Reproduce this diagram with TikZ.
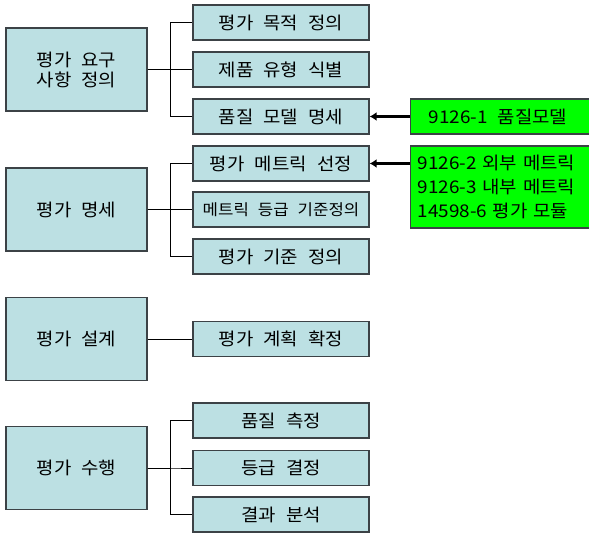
\documentclass[tikz,border=0pt]{standalone}
\usepackage{fontspec}
\setmainfont{Noto Sans CJK KR}[FakeStretch=1.08,WordSpace=2.4]
\usetikzlibrary{arrows.meta}
\definecolor{boxfill}{RGB}{188, 224, 227}
\definecolor{boxline}{RGB}{60, 66, 70}
\definecolor{isogreen}{RGB}{0, 255, 0}

\tikzset{
  stage/.style={draw=boxline, line width=1.3pt, fill=boxfill, minimum width=141pt,
    minimum height=83pt, align=center, font=\fontsize{17.5}{20}\selectfont},
  task/.style={draw=boxline, line width=1.3pt, fill=boxfill, minimum width=176pt,
    minimum height=35pt, font=\fontsize{17.5}{20}\selectfont},
  standard/.style={draw=boxline, line width=1.3pt, fill=isogreen, anchor=west,
    font=\fontsize{17.5}{24}\selectfont},
  link/.style={line width=0.9pt, black},
  feed/.style={line width=3.2pt, black, -{Latex[length=7pt,width=9pt]}}
}

\begin{document}
\begin{tikzpicture}[x=1pt, y=-1pt]
    \useasboundingbox (0,0) rectangle (589,534);
    \clip (0,0) rectangle (589,534);

    % Stages
    \node[stage] (req) at (76.5,69.5) {평가 요구\\사항 정의};
    \node[stage] (spec) at (76.5,209.5) {평가 명세};
    \node[stage] (design) at (76.5,339) {평가 설계};
    \node[stage] (run) at (76.5,468) {평가 수행};

    % Tasks
    \node[task] (purpose) at (281,22.5) {평가 목적 정의};
    \node[task] (product) at (281,69.5) {제품 유형 식별};
    \node[task] (model) at (281,116.5) {품질 모델 명세};
    \node[task] (metric) at (281,163.5) {평가 메트릭 선정};
    \node[task] (level) at (281,209.5) {\fontsize{15.5}{20}\selectfont 메트릭 등급 기준정의};
    \node[task] (criteria) at (281,256.5) {평가 기준 정의};
    \node[task] (plan) at (281,339) {평가 계획 확정};
    \node[task] (measure) at (281,420.5) {품질 측정};
    \node[task] (grade) at (281,468) {등급 결정};
    \node[task] (analyse) at (281,514.5) {결과 분석};

    % Tree links
    \foreach \p/\list in {req/{purpose,product,model}, spec/{metric,level,criteria},
                          run/{measure,grade,analyse}} {
        \foreach \c in \list {
            \draw[link] (\p.east) -- ++(23,0) |- (\c.west);
          }
      }
    \draw[link] (design.east) -- (plan.west);

    % ISO standards
    \node[standard, minimum width=190pt, minimum height=35pt] (iso1) at (410,116.5) {};
    \node[anchor=west, font=\fontsize{17.5}{24}\selectfont] (iso1text) at (425,116.5) {9126-1 품질모델};
    \node[standard, text width=200pt, minimum height=82pt, align=left,
      inner xsep=7pt] (iso2) at (410,187)
      {9126-2 외부 메트릭\\9126-3 내부 메트릭\\14598-6 평가 모듈};

    \draw[feed] (iso1.west) -- (model.east);
    \draw[feed] (metric.east -| iso2.west) -- (metric.east);
  \end{tikzpicture}
\end{document}
